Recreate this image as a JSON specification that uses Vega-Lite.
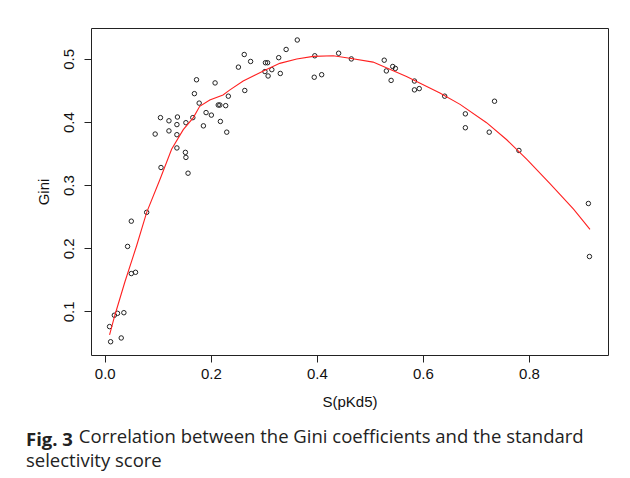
{
  "$schema": "https://vega.github.io/schema/vega-lite/v6.json",
  "width": 517,
  "height": 327,
  "autosize": "none",
  "padding": {"left": 91, "top": 28, "right": 22, "bottom": 123},
  "background": "white",
  "config": {
    "view": {"stroke": "#222", "strokeWidth": 1},
    "axis": {
      "grid": false,
      "domain": false,
      "tickColor": "#222",
      "tickSize": 7,
      "labelColor": "#111",
      "labelFont": "Liberation Sans",
      "labelFontSize": 15,
      "titleFont": "Liberation Sans",
      "titleFontSize": 15,
      "titleFontWeight": "normal",
      "titleColor": "#111"
    }
  },
  "title": {
    "text": "Fig. 3",
    "subtitle": ["\u200b\u00a0\u00a0\u00a0\u00a0\u00a0\u00a0\u00a0\u00a0\u00a0\u00a0\u00a0Correlation between the Gini coefficients and the standard", "selectivity score"],
    "orient": "bottom",
    "anchor": "start",
    "frame": "group",
    "dx": -65,
    "offset": 22,
    "font": "Open Sans",
    "fontSize": 18.5,
    "fontWeight": "bold",
    "color": "#222",
    "subtitleFont": "Open Sans",
    "subtitleFontSize": 18.5,
    "subtitleFontWeight": "normal",
    "subtitleColor": "#222",
    "subtitleLineHeight": 24,
    "subtitlePadding": -22
  },
  "datasets": {
    "points": [
      {"s": 0.095, "gini": 0.381}, {"s": 0.105, "gini": 0.407}, {"s": 0.106, "gini": 0.328},
      {"s": 0.121, "gini": 0.402}, {"s": 0.121, "gini": 0.386}, {"s": 0.137, "gini": 0.408},
      {"s": 0.136, "gini": 0.396}, {"s": 0.136, "gini": 0.380}, {"s": 0.136, "gini": 0.359},
      {"s": 0.153, "gini": 0.399}, {"s": 0.152, "gini": 0.352}, {"s": 0.153, "gini": 0.344},
      {"s": 0.157, "gini": 0.319}, {"s": 0.166, "gini": 0.407}, {"s": 0.169, "gini": 0.445},
      {"s": 0.173, "gini": 0.467}, {"s": 0.178, "gini": 0.430}, {"s": 0.186, "gini": 0.394},
      {"s": 0.191, "gini": 0.415}, {"s": 0.201, "gini": 0.411}, {"s": 0.208, "gini": 0.462},
      {"s": 0.214, "gini": 0.427}, {"s": 0.217, "gini": 0.427}, {"s": 0.218, "gini": 0.401},
      {"s": 0.228, "gini": 0.426}, {"s": 0.233, "gini": 0.441}, {"s": 0.230, "gini": 0.384},
      {"s": 0.252, "gini": 0.487}, {"s": 0.263, "gini": 0.507}, {"s": 0.264, "gini": 0.450},
      {"s": 0.275, "gini": 0.496}, {"s": 0.303, "gini": 0.494}, {"s": 0.307, "gini": 0.494},
      {"s": 0.302, "gini": 0.480}, {"s": 0.308, "gini": 0.473}, {"s": 0.315, "gini": 0.483},
      {"s": 0.328, "gini": 0.502}, {"s": 0.331, "gini": 0.477}, {"s": 0.342, "gini": 0.515},
      {"s": 0.363, "gini": 0.530}, {"s": 0.396, "gini": 0.505}, {"s": 0.395, "gini": 0.471},
      {"s": 0.409, "gini": 0.475}, {"s": 0.441, "gini": 0.509}, {"s": 0.465, "gini": 0.500},
      {"s": 0.527, "gini": 0.498}, {"s": 0.543, "gini": 0.488}, {"s": 0.548, "gini": 0.485},
      {"s": 0.531, "gini": 0.481}, {"s": 0.540, "gini": 0.466}, {"s": 0.584, "gini": 0.465},
      {"s": 0.584, "gini": 0.451}, {"s": 0.593, "gini": 0.453}, {"s": 0.641, "gini": 0.441},
      {"s": 0.680, "gini": 0.413}, {"s": 0.680, "gini": 0.391}, {"s": 0.735, "gini": 0.433},
      {"s": 0.725, "gini": 0.384}, {"s": 0.781, "gini": 0.355}, {"s": 0.912, "gini": 0.271},
      {"s": 0.914, "gini": 0.187}, {"s": 0.079, "gini": 0.257}, {"s": 0.050, "gini": 0.243},
      {"s": 0.043, "gini": 0.203}, {"s": 0.050, "gini": 0.160}, {"s": 0.058, "gini": 0.162},
      {"s": 0.036, "gini": 0.098}, {"s": 0.024, "gini": 0.097}, {"s": 0.018, "gini": 0.094},
      {"s": 0.009, "gini": 0.076}, {"s": 0.011, "gini": 0.052}, {"s": 0.031, "gini": 0.058}
    ],
    "fit": [
      {"s": 0.009, "gini": 0.063}, {"s": 0.019, "gini": 0.094}, {"s": 0.038, "gini": 0.147},
      {"s": 0.060, "gini": 0.204}, {"s": 0.079, "gini": 0.257}, {"s": 0.104, "gini": 0.309},
      {"s": 0.126, "gini": 0.357}, {"s": 0.148, "gini": 0.388}, {"s": 0.167, "gini": 0.407},
      {"s": 0.179, "gini": 0.425}, {"s": 0.198, "gini": 0.435}, {"s": 0.223, "gini": 0.443},
      {"s": 0.236, "gini": 0.451}, {"s": 0.261, "gini": 0.465}, {"s": 0.299, "gini": 0.481},
      {"s": 0.330, "gini": 0.493}, {"s": 0.362, "gini": 0.500}, {"s": 0.393, "gini": 0.504},
      {"s": 0.431, "gini": 0.505}, {"s": 0.462, "gini": 0.501}, {"s": 0.506, "gini": 0.495},
      {"s": 0.569, "gini": 0.472}, {"s": 0.632, "gini": 0.446}, {"s": 0.670, "gini": 0.428},
      {"s": 0.720, "gini": 0.399}, {"s": 0.758, "gini": 0.372}, {"s": 0.796, "gini": 0.341},
      {"s": 0.840, "gini": 0.302}, {"s": 0.884, "gini": 0.262}, {"s": 0.915, "gini": 0.230}
    ]
  },
  "layer": [
    {
      "data": {"name": "points"},
      "mark": {"type": "point", "shape": "circle", "filled": false, "size": 20, "stroke": "#222", "strokeWidth": 1, "opacity": 1},
      "encoding": {
        "x": {
          "field": "s", "type": "quantitative",
          "scale": {"domain": [-0.026, 0.949], "nice": false, "zero": false},
          "axis": {"title": "S(pKd5)", "values": [0, 0.2, 0.4, 0.6, 0.8], "format": ".1f", "labelPadding": 4, "titlePadding": 13}
        },
        "y": {
          "field": "gini", "type": "quantitative",
          "scale": {"domain": [0.031, 0.549], "nice": false, "zero": false},
          "axis": {"title": "Gini", "values": [0.1, 0.2, 0.3, 0.4, 0.5], "format": ".1f", "labelAngle": -90, "labelAlign": "center", "labelBaseline": "bottom", "labelPadding": 8, "titlePadding": 10}
        }
      }
    },
    {
      "data": {"name": "fit"},
      "mark": {"type": "line", "color": "#ff2020", "strokeWidth": 1.1},
      "encoding": {
        "x": {"field": "s", "type": "quantitative"},
        "y": {"field": "gini", "type": "quantitative"}
      }
    }
  ]
}
